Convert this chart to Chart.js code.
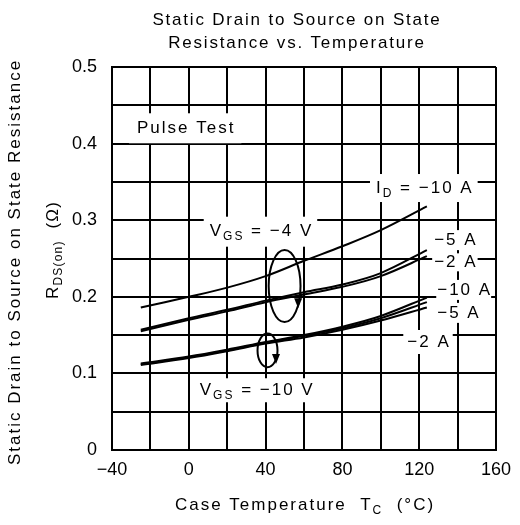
<!DOCTYPE html>
<html>
<head>
<meta charset="utf-8">
<script src="https://cdn.jsdelivr.net/npm/chart.js@4"></script>
<style>
  html, body { margin: 0; padding: 0; background: #fff; }
  canvas { display: block; }
</style>
</head>
<body>
<canvas id="rdsChart" width="520" height="525"></canvas>
<script>
// Case temperature (°C) sample points along each curve
const temps = [-25, 0, 20, 40, 60, 80, 100, 124];

// RDS(on) in ohms, VGS = -4 V
const vgs4Id10 = [0.186, 0.200, 0.212, 0.227, 0.247, 0.266, 0.287, 0.318];
const vgs4Id5  = [0.157, 0.172, 0.183, 0.195, 0.206, 0.216, 0.231, 0.261];
const vgs4Id2  = [0.155, 0.170, 0.181, 0.193, 0.203, 0.213, 0.227, 0.253];

// RDS(on) in ohms, VGS = -10 V
const vgs10Id10 = [0.113, 0.122, 0.131, 0.141, 0.150, 0.161, 0.175, 0.199];
const vgs10Id5  = [0.112, 0.121, 0.130, 0.140, 0.149, 0.159, 0.172, 0.193];
const vgs10Id2  = [0.111, 0.120, 0.129, 0.139, 0.147, 0.157, 0.169, 0.186];

const xTickLabels = [-40, 0, 40, 80, 120, 160];
const yTickLabels = [0, 0.1, 0.2, 0.3, 0.4, 0.5];

const FONT = '"Liberation Sans", Arial, sans-serif';
const SIZE = 17;

function toPoints(ys) {
  return ys.map((y, i) => ({ x: temps[i], y: y }));
}

function curve(label, ys) {
  return {
    label: label,
    data: toPoints(ys),
    showLine: true,
    borderColor: '#000',
    borderWidth: 2,
    pointRadius: 0,
    tension: 0.35,
    fill: false
  };
}

// text made of parts, some of them subscripts
function richWidth(ctx, parts, size, spacing) {
  let w = 0;
  ctx.letterSpacing = spacing + 'px';
  parts.forEach(p => {
    ctx.font = (p.sub ? Math.round(size * 0.7) : size) + 'px ' + FONT;
    w += ctx.measureText(p.t).width;
  });
  return w;
}

function drawRich(ctx, parts, x, y, size, align, spacing) {
  let w = richWidth(ctx, parts, size, spacing);
  let cx = align === 'center' ? x - w / 2 : x;
  ctx.textBaseline = 'middle';
  ctx.textAlign = 'left';
  parts.forEach(p => {
    let s = p.sub ? Math.round(size * 0.7) : size;
    ctx.font = s + 'px ' + FONT;
    ctx.fillText(p.t, cx, p.sub ? y + size * 0.32 : y);
    cx += ctx.measureText(p.t).width;
  });
  return w;
}

// labels inside the plot, anchored in data coordinates (left edge, middle)
const notes = [
  { x: -27, y: 0.420, parts: [{ t: 'Pulse Test' }], padX: 8, padY: 15 },
  { x: 97.5, y: 0.342, parts: [{ t: 'I' }, { t: 'D', sub: true }, { t: ' = \u221210 A' }], padX: 6, padY: 14 },
  { x: 10.9, y: 0.285, parts: [{ t: 'V' }, { t: 'GS', sub: true }, { t: ' = \u22124 V' }], padX: 6, padY: 15 },
  { x: 127.8, y: 0.274, parts: [{ t: '\u22125 A' }], padX: 2, padY: 10 },
  { x: 127.8, y: 0.245, parts: [{ t: '\u22122 A' }], padX: 2, padY: 9 },
  { x: 129.4, y: 0.209, parts: [{ t: '\u221210 A' }], padX: 1, padY: 10 },
  { x: 129.4, y: 0.179, parts: [{ t: '\u22125 A' }], padX: 2, padY: 10 },
  { x: 113.8, y: 0.141, parts: [{ t: '\u22122 A' }], padX: 4, padY: 12 },
  { x: 5.7, y: 0.078, parts: [{ t: 'V' }, { t: 'GS', sub: true }, { t: ' = \u221210 V' }], padX: 6, padY: 12 }
];

// loops that group the curves, in data coordinates
const loops = [
  { x: 49.9, y: 0.214, rx: 8.3, ry: 0.047 },
  { x: 41, y: 0.130, rx: 5.2, ry: 0.022 }
];

const notesPlugin = {
  id: 'notes',
  beforeDatasetsDraw(chart) {
    const ctx = chart.ctx;
    const xs = chart.scales.x, ys = chart.scales.y;
    ctx.save();
    notes.forEach(n => {
      const px = xs.getPixelForValue(n.x);
      const py = ys.getPixelForValue(n.y);
      const w = richWidth(ctx, n.parts, SIZE, 2);
      ctx.fillStyle = '#fff';
      ctx.fillRect(px - n.padX, py - n.padY, w + 2 * n.padX - 2, 2 * n.padY);
      ctx.fillStyle = '#000';
      drawRich(ctx, n.parts, px, py, SIZE, 'left', 2);
    });
    ctx.restore();
  },
  afterDatasetsDraw(chart) {
    const ctx = chart.ctx;
    const xs = chart.scales.x, ys = chart.scales.y;
    ctx.save();
    ctx.strokeStyle = '#000';
    ctx.fillStyle = '#000';
    ctx.lineWidth = 2;
    loops.forEach(l => {
      const cx = xs.getPixelForValue(l.x);
      const cy = ys.getPixelForValue(l.y);
      const rx = Math.abs(xs.getPixelForValue(l.x + l.rx) - cx);
      const ry = Math.abs(ys.getPixelForValue(l.y + l.ry) - cy);
      ctx.beginPath();
      ctx.ellipse(cx, cy, rx, ry, 0, 0, Math.PI * 2);
      ctx.stroke();
      // arrow head on the lower right of the loop
      const ax = cx + rx * 0.85, ay = cy + ry * 0.45;
      ctx.beginPath();
      ctx.moveTo(ax - 4, ay - 4);
      ctx.lineTo(ax + 4, ay - 4);
      ctx.lineTo(ax, ay + 6);
      ctx.closePath();
      ctx.fill();
    });
    ctx.restore();
  },
  afterDraw(chart) {
    const ctx = chart.ctx;
    const area = chart.chartArea;
    const mid = (area.left + area.right) / 2;
    ctx.save();
    ctx.fillStyle = '#000';
    drawRich(ctx, [{ t: 'Static Drain to Source on State' }], mid - 7, 20, SIZE, 'center', 1.8);
    drawRich(ctx, [{ t: 'Resistance vs. Temperature' }], mid - 7, 43, SIZE, 'center', 1.8);
    drawRich(ctx, [{ t: 'Case Temperature  T' }, { t: 'C', sub: true }, { t: '  (\u00b0C)' }], mid + 1, 505, SIZE, 'center', 2);

    ctx.translate(15, 262);
    ctx.rotate(-Math.PI / 2);
    drawRich(ctx, [{ t: 'Static Drain to Source on State Resistance' }], 0, 0, SIZE, 'center', 2);
    ctx.restore();

    ctx.save();
    ctx.fillStyle = '#000';
    ctx.translate(53, 250);
    ctx.rotate(-Math.PI / 2);
    drawRich(ctx, [{ t: 'R' }, { t: 'DS(on)', sub: true }, { t: '  (\u03a9)' }], 0, 0, SIZE, 'center', 1.2);
    ctx.restore();
  }
};

const ctx = document.getElementById('rdsChart').getContext('2d');

new Chart(ctx, {
  type: 'scatter',
  data: {
    datasets: [
      curve('VGS -4 V, ID -10 A', vgs4Id10),
      curve('VGS -4 V, ID -5 A', vgs4Id5),
      curve('VGS -4 V, ID -2 A', vgs4Id2),
      curve('VGS -10 V, ID -10 A', vgs10Id10),
      curve('VGS -10 V, ID -5 A', vgs10Id5),
      curve('VGS -10 V, ID -2 A', vgs10Id2)
    ]
  },
  options: {
    responsive: false,
    animation: false,
    devicePixelRatio: 1,
    layout: { padding: { top: 67, right: 23, left: 0, bottom: 0 } },
    plugins: {
      legend: { display: false },
      title: { display: false },
      tooltip: { enabled: false }
    },
    scales: {
      x: {
        type: 'linear',
        min: -40,
        max: 160,
        afterFit: s => { s.height = 75; },
        grid: { color: '#000', lineWidth: 2, drawTicks: false },
        border: { color: '#000', width: 2 },
        ticks: {
          stepSize: 20,
          autoSkip: false,
          maxRotation: 0,
          padding: 9,
          color: '#000',
          font: { family: FONT, size: 18 },
          callback: v => xTickLabels.includes(v) ? (v < 0 ? '\u2212' + Math.abs(v) : String(v)) : ''
        }
      },
      y: {
        min: 0,
        max: 0.5,
        afterFit: s => { s.width = 112; },
        grid: { color: '#000', lineWidth: 2, drawTicks: false },
        border: { color: '#000', width: 2 },
        ticks: {
          stepSize: 0.05,
          autoSkip: false,
          padding: 15,
          color: '#000',
          font: { family: FONT, size: 18 },
          callback: v => {
            const t = yTickLabels.find(k => Math.abs(k - v) < 1e-6);
            if (t === undefined) return '';
            return t === 0 ? '0' : t.toFixed(1);
          }
        }
      }
    }
  },
  plugins: [notesPlugin]
});
</script>
</body>
</html>
